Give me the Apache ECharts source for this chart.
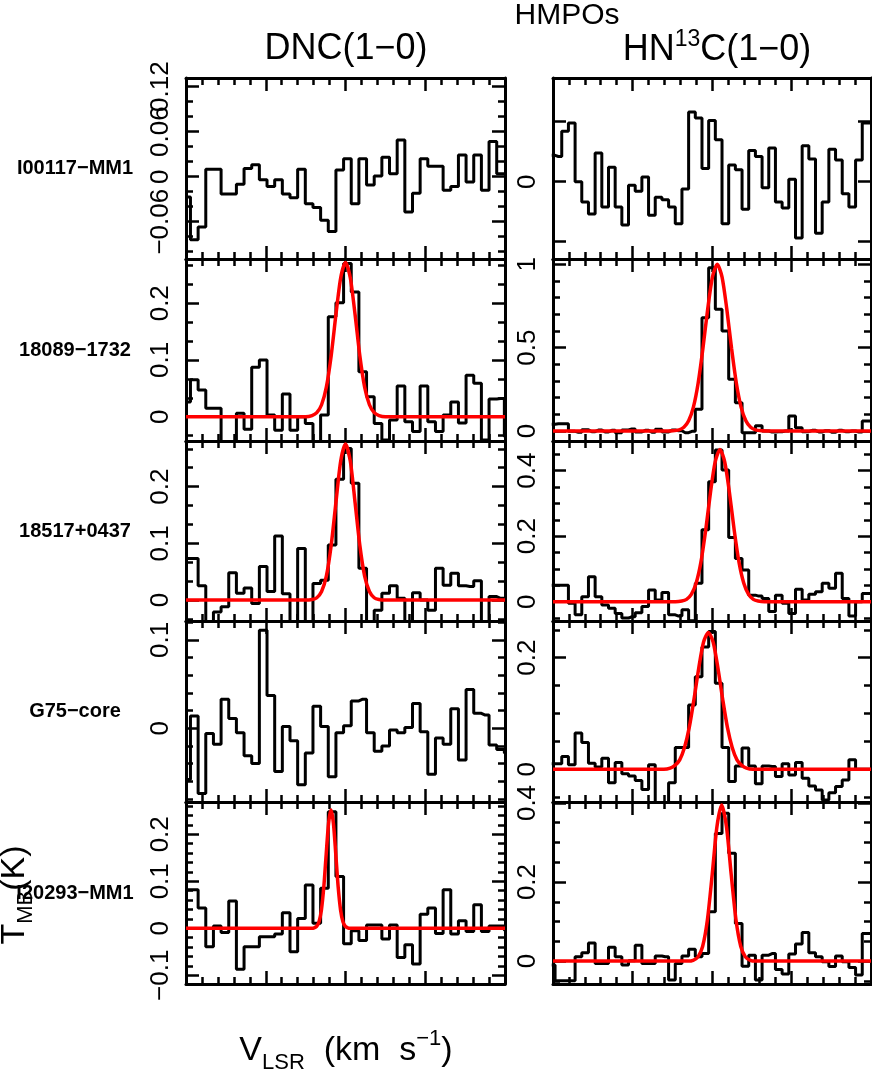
<!DOCTYPE html>
<html>
<head>
<meta charset="utf-8">
<script src="https://cdn.jsdelivr.net/npm/echarts@6.0.0/dist/echarts.min.js"></script>
<style>html,body{margin:0;padding:0;background:#fff}#chart{width:872px;height:1073px}</style>
</head>
<body>
<div id="chart"></div>
<script>
// ---------------- DATA ----------------
const groupTitle = 'HMPOs';
const sources = ['I00117−MM1', '18089−1732', '18517+0437', 'G75−core', 'I20293−MM1'];

// channel velocities (km/s, relative)
const velDNC = [-9.96,-9.48,-9.00,-8.52,-8.04,-7.56,-7.08,-6.60,-6.12,-5.64,-5.16,-4.68,-4.20,-3.72,-3.24,-2.76,-2.28,-1.80,-1.32,-0.84,-0.36,0.12,0.60,1.08,1.56,2.04,2.52,3.00,3.48,3.96,4.44,4.92,5.40,5.88,6.36,6.84,7.32,7.80,8.28,8.76,9.24,9.72,10.20];
const velHN13C = [-10.08,-9.66,-9.24,-8.82,-8.40,-7.98,-7.56,-7.14,-6.72,-6.30,-5.88,-5.46,-5.04,-4.62,-4.20,-3.78,-3.36,-2.94,-2.52,-2.10,-1.68,-1.26,-0.84,-0.42,0.00,0.42,0.84,1.26,1.68,2.10,2.52,2.94,3.36,3.78,4.20,4.62,5.04,5.46,5.88,6.30,6.72,7.14,7.56,7.98,8.40,8.82,9.24,9.66,10.08];

// DNC(1-0) spectra (T_MB, K)
const dncI00117 = [-0.027,-0.084,-0.067,0.010,0.010,-0.023,-0.023,-0.010,0.011,0.016,-0.004,-0.013,-0.004,-0.023,-0.028,0.010,-0.036,-0.041,-0.058,-0.073,0.009,0.024,-0.036,0.024,-0.011,0.001,0.026,0.004,0.049,-0.047,-0.022,0.024,0.014,0.014,-0.018,-0.013,0.029,-0.007,0.029,-0.018,0.047,0.004,0.004];
const dnc18089 = [0.026,0.065,0.047,0.015,0.015,-0.044,-0.044,0.006,-0.022,0.087,0.100,0.003,-0.024,0.040,-0.024,0.0,-0.012,-0.044,0.003,0.176,0.201,0.270,0.220,0.079,0.035,-0.012,-0.041,-0.006,0.054,-0.009,-0.026,0.054,-0.009,-0.026,0.003,0.026,-0.011,0.073,0.059,-0.041,0.031,0.032,-0.035];
const dnc18517 = [0.073,0.073,0.025,-0.038,-0.021,-0.012,0.048,0.012,0.021,-0.006,0.059,0.015,0.113,0.011,-0.038,0.091,-0.041,0.029,0.035,0.097,0.213,0.267,0.206,0.056,-0.038,-0.018,0.012,0.025,0.003,-0.041,0.013,0.0,-0.018,0.056,0.026,0.047,0.025,0.024,0.034,-0.041,0.006,0.003,0.0];
const dncG75 = [-0.058,0.014,-0.074,-0.006,-0.018,0.033,0.011,-0.005,-0.031,-0.040,0.111,0.037,-0.049,0.002,-0.014,-0.064,-0.028,0.025,0.002,-0.055,-0.005,0.003,0.031,0.033,-0.005,-0.026,-0.020,-0.002,-0.005,0.001,0.028,-0.004,-0.052,-0.011,-0.018,0.022,-0.036,0.044,0.017,0.015,-0.019,-0.024,-0.028];
const dncI20293 = [0.082,0.082,0.043,-0.039,0.005,-0.009,0.058,-0.087,-0.039,-0.039,-0.018,-0.018,-0.012,0.033,-0.050,0.021,0.092,0.011,0.085,0.248,0.110,-0.033,-0.005,-0.026,0.007,0.007,-0.023,0.007,-0.062,-0.035,-0.076,0.030,0.043,-0.011,0.082,-0.012,0.016,-0.007,0.050,-0.007,0.005,0.005,-0.004];

// HN13C(1-0) spectra (T_MB, K)
const hn13cI00117 = [0.022,0.021,0.042,0.049,0.000,-0.017,-0.027,0.024,-0.021,0.012,-0.021,-0.036,-0.003,-0.008,0.004,-0.028,-0.013,-0.015,-0.021,-0.035,-0.006,0.058,0.053,0.011,0.051,0.035,-0.035,0.014,0.010,-0.023,0.026,0.021,-0.005,0.028,-0.017,-0.022,0.002,-0.047,0.030,0.019,-0.043,-0.017,0.027,0.018,-0.010,-0.021,0.018,0.049,0.049];
const hn13c18089 = [0.04,0.044,0.044,-0.002,-0.008,0.008,-0.004,0.006,-0.006,0.004,-0.01,0.006,0.012,-0.006,0.004,-0.008,0.01,-0.006,0.006,0.002,-0.01,-0.002,0.13,0.68,0.98,0.73,0.60,0.31,0.17,-0.01,-0.01,0.032,0.0,-0.006,-0.004,0.0,0.09,0.02,-0.004,0.004,-0.006,0.002,-0.008,0.004,-0.004,0.0,-0.006,0.06,0.06];
const hn13c18517 = [0.05,0.05,0.05,-0.005,-0.04,0.015,0.076,0.015,-0.01,-0.02,-0.036,-0.05,-0.046,-0.034,-0.015,0.036,0.005,0.028,-0.04,-0.044,-0.025,-0.058,0.056,0.22,0.366,0.463,0.402,0.196,0.132,0.097,0.02,0.017,0.01,-0.03,0.02,-0.005,-0.036,0.038,0.005,0.023,0.03,0.056,0.041,0.087,0.01,-0.044,0.0,0.025,0.025];
const hn13cG75 = [0.01,0.01,0.023,0.008,0.065,0.048,0.011,0.004,0.020,-0.024,0.012,-0.008,-0.012,-0.020,-0.036,0.008,-0.067,-0.070,-0.024,0.039,0.039,0.115,0.166,0.219,0.247,0.154,0.039,-0.022,0.006,0.038,0.006,-0.026,0.006,0.005,-0.013,0.010,-0.010,0.012,-0.016,-0.030,-0.037,-0.055,-0.042,-0.031,-0.019,0.017,0.0,0.0,0.0];
const hn13cI20293 = [-0.01,-0.05,-0.05,-0.05,0.011,0.021,0.046,-0.006,-0.006,0.035,0.011,-0.01,0.001,0.04,-0.006,-0.006,0.013,0.011,-0.048,-0.006,0.013,0.03,0.011,0.019,0.125,0.323,0.374,0.273,0.095,-0.013,0.015,-0.048,0.015,0.019,-0.021,-0.033,0.018,0.043,0.072,0.021,0.011,-0.002,-0.014,0.013,-0.002,-0.016,-0.035,0.07,0.07];

// Gaussian fit curves [velocity, T_MB]
const fitDnc18089 = [[-10,0],[-3,0],[-2.5,0],[-2.1,0.002],[-1.8,0.007],[-1.5,0.021],[-1.2,0.052],[-0.9,0.107],[-0.6,0.180],[-0.3,0.245],[0,0.272],[0.3,0.245],[0.6,0.180],[0.9,0.107],[1.2,0.052],[1.5,0.021],[1.8,0.007],[2.1,0.002],[2.5,0],[3,0],[10,0]];
const fitDnc18517 = [[-10,0],[-3,0],[-2.5,0],[-2.1,0.001],[-1.8,0.004],[-1.5,0.015],[-1.2,0.042],[-0.9,0.096],[-0.6,0.172],[-0.3,0.245],[0,0.275],[0.3,0.245],[0.6,0.172],[0.9,0.096],[1.2,0.042],[1.5,0.015],[1.8,0.004],[2.1,0.001],[2.5,0],[3,0],[10,0]];
const fitDncI20293 = [[-10,0],[-2.5,0],[-2.11,0],[-1.96,0.001],[-1.81,0.004],[-1.66,0.014],[-1.51,0.039],[-1.36,0.088],[-1.21,0.158],[-1.06,0.224],[-0.91,0.252],[-0.76,0.224],[-0.61,0.158],[-0.46,0.088],[-0.31,0.039],[-0.16,0.014],[-0.01,0.004],[0.14,0.001],[0.29,0],[0.7,0],[10,0]];
const fitHn13c18089 = [[-10,0],[-3.2,0],[-2.8,0],[-2.47,0.001],[-2.07,0.007],[-1.77,0.022],[-1.47,0.061],[-1.17,0.143],[-0.87,0.288],[-0.57,0.496],[-0.27,0.732],[0.03,0.925],[0.33,1.0],[0.63,0.925],[0.93,0.732],[1.23,0.496],[1.53,0.288],[1.83,0.143],[2.13,0.061],[2.43,0.022],[2.73,0.007],[3.13,0.001],[3.5,0],[4,0],[10,0]];
const fitHn13c18517 = [[-10,0],[-2.8,0],[-2.3,0],[-1.9,0.002],[-1.6,0.007],[-1.3,0.022],[-1.0,0.056],[-0.7,0.120],[-0.4,0.217],[-0.1,0.332],[0.2,0.427],[0.5,0.465],[0.8,0.427],[1.1,0.332],[1.4,0.217],[1.7,0.120],[2.0,0.056],[2.3,0.022],[2.6,0.007],[2.9,0.002],[3.3,0],[3.8,0],[10,0]];
const fitHn13cG75 = [[-10,0],[-3.5,0],[-3.03,0],[-2.63,0.002],[-2.33,0.007],[-2.03,0.017],[-1.73,0.039],[-1.43,0.075],[-1.13,0.126],[-0.83,0.182],[-0.53,0.228],[-0.23,0.245],[0.07,0.228],[0.37,0.182],[0.67,0.126],[0.97,0.075],[1.27,0.039],[1.57,0.017],[1.87,0.007],[2.17,0.002],[2.57,0],[3,0],[10,0]];
const fitHn13cI20293 = [[-10,0],[-2,0],[-1.49,0],[-1.19,0.002],[-0.89,0.010],[-0.59,0.037],[-0.29,0.104],[0.01,0.218],[0.31,0.340],[0.61,0.395],[0.91,0.340],[1.21,0.218],[1.51,0.104],[1.81,0.037],[2.11,0.010],[2.41,0.002],[2.71,0],[3.2,0],[10,0]];

// y-axis ranges, major tick values, labelled values, minor tick values
const yRangeDNC = [[-0.1097,0.1316],[-0.0429,0.278],[-0.037,0.2804],[-0.0835,0.1215],[-0.1185,0.2687]];
const yRangeHN13C = [[-0.0644,0.0864],[-0.06,1.032],[-0.059,0.4907],[-0.0586,0.2657],[-0.058,0.4025]];
const yMajorDNC = [[-0.06,0,0.06,0.12],[0,0.1,0.2],[0,0.1,0.2],[0,0.1],[-0.1,0,0.1,0.2]];
const yMajorHN13C = [[-0.05,0,0.05],[0,0.5,1],[0,0.2,0.4],[0,0.2],[0,0.2,0.4]];
const yLabelDNC = [[-0.06,0,0.06,0.12],[0,0.1,0.2],[0,0.1,0.2],[0,0.1],[-0.1,0,0.1,0.2]];
const yLabelHN13C = [[0],[0,0.5,1],[0,0.2,0.4],[0,0.2],[0,0.2,0.4]];
const yMinorDNC = [
  [-0.10,-0.08,-0.04,-0.02,0.02,0.04,0.08,0.10],
  [-0.0333,0.0333,0.0667,0.1333,0.1667,0.2333,0.2667],
  [-0.0333,0.0333,0.0667,0.1333,0.1667,0.2333,0.2667],
  [-0.08,-0.06,-0.04,-0.02,0.02,0.04,0.06,0.08,0.12],
  [-0.08,-0.06,-0.04,-0.02,0.02,0.04,0.06,0.08,0.12,0.14,0.16,0.18,0.22,0.24,0.26]
];
const yMinorHN13C = [
  [],
  [0.1,0.2,0.3,0.4,0.6,0.7,0.8,0.9],
  [-0.05,0.05,0.1,0.15,0.25,0.3,0.35,0.45],
  [-0.05,0.05,0.1,0.15,0.25],
  [-0.05,0.05,0.1,0.15,0.25,0.3,0.35]
];

const dncSpectra = [dncI00117, dnc18089, dnc18517, dncG75, dncI20293];
const hn13cSpectra = [hn13cI00117, hn13c18089, hn13c18517, hn13cG75, hn13cI20293];
const dncFits = [null, fitDnc18089, fitDnc18517, null, fitDncI20293];
const hn13cFits = [null, fitHn13c18089, fitHn13c18517, fitHn13cG75, fitHn13cI20293];

// ---------------- LAYOUT ----------------
const FONT = '"Liberation Sans", Arial, Helvetica, sans-serif';
const colLeft = [186, 553];
const colWidth = [319, 318];
const rowTop = [78, 259, 441, 621, 802];
const rowBottom = [259, 441, 621, 802, 984];
const BLACK = '#000';

function fmt(v) {
  return String(Math.round(v * 1000) / 1000).replace('-', '−');
}
function labelStyle(vals) {
  if (!vals.length) return { show: false };
  return {
    show: true, customValues: vals, rotate: 90, margin: 12, fontSize: 26,
    fontFamily: FONT, color: BLACK, formatter: fmt,
    hideOverlap: false, showMinLabel: true, showMaxLabel: true
  };
}

const grid = [], xAxis = [], yAxis = [], series = [];
const panels = [];
for (let r = 0; r < 5; r++) {
  panels.push({ row: r, col: 0, vel: velDNC, spec: dncSpectra[r], fit: dncFits[r],
    range: yRangeDNC[r], major: yMajorDNC[r], labels: yLabelDNC[r], minor: yMinorDNC[r] });
  panels.push({ row: r, col: 1, vel: velHN13C, spec: hn13cSpectra[r], fit: hn13cFits[r],
    range: yRangeHN13C[r], major: yMajorHN13C[r], labels: yLabelHN13C[r], minor: yMinorHN13C[r] });
}

panels.forEach((p, i) => {
  grid.push({ left: colLeft[p.col], top: rowTop[p.row], width: colWidth[p.col],
    height: rowBottom[p.row] - rowTop[p.row], containLabel: false });
  const xi = xAxis.length;
  ['bottom', 'top'].forEach(pos => {
    xAxis.push({
      type: 'value', gridIndex: i, position: pos, min: -10, max: 10, interval: 5,
      axisLine: { show: true, onZero: false, lineStyle: { color: BLACK, width: 3 } },
      axisTick: { show: true, inside: true, length: 13, lineStyle: { color: BLACK, width: 2.5 } },
      minorTick: { show: true, splitNumber: 5, length: 7, lineStyle: { color: BLACK, width: 2.5 } },
      axisLabel: { show: false }, splitLine: { show: false }, minorSplitLine: { show: false }
    });
  });
  // labels split over two axes so that overlapping labels are all kept (as in the original)
  const labA = p.labels.filter((_, j) => j % 2 === 0);
  const labB = p.labels.filter((_, j) => j % 2 === 1);
  const yi = yAxis.length;
  ['left', 'right'].forEach(pos => {
    yAxis.push({
      type: 'value', gridIndex: i, position: pos, min: p.range[0], max: p.range[1],
      axisLine: { show: true, onZero: false, lineStyle: { color: BLACK, width: 3 } },
      axisTick: { show: true, inside: true, length: 13, customValues: p.major,
        lineStyle: { color: BLACK, width: 2.5 } },
      axisLabel: pos === 'left' ? labelStyle(labA) : { show: false },
      splitLine: { show: false }
    });
    yAxis.push({
      type: 'value', gridIndex: i, position: pos, min: p.range[0], max: p.range[1],
      axisLine: { show: false, onZero: false },
      axisTick: { show: p.minor.length > 0, inside: true, length: 7, customValues: p.minor,
        lineStyle: { color: BLACK, width: 2.5 } },
      axisLabel: pos === 'left' ? labelStyle(labB) : { show: false },
      splitLine: { show: false }
    });
  });
  series.push({
    type: 'line', xAxisIndex: xi, yAxisIndex: yi, step: 'middle',
    data: p.vel.map((v, k) => [v, p.spec[k]]),
    symbol: 'none', lineStyle: { color: BLACK, width: 3 }, silent: true, z: 2
  });
  if (p.fit) {
    series.push({
      type: 'line', xAxisIndex: xi, yAxisIndex: yi, data: p.fit, smooth: 0.25,
      symbol: 'none', lineStyle: { color: '#ff0000', width: 3.5 }, silent: true, z: 3
    });
  }
});

const graphic = [
  { type: 'text', x: 567, y: 16, style: { text: groupTitle, fontSize: 30, fontFamily: FONT, fill: BLACK, textAlign: 'center', textVerticalAlign: 'middle' } },
  { type: 'text', x: 346, y: 49, style: { text: 'DNC(1−0)', fontSize: 36, fontFamily: FONT, fill: BLACK, textAlign: 'center', textVerticalAlign: 'middle' } },
  { type: 'text', x: 717, y: 50, style: {
      text: '{n|HN}{s|13}{n|C(1−0)}', textAlign: 'center', textVerticalAlign: 'middle', fill: BLACK,
      rich: { n: { fontSize: 36, fontFamily: FONT, lineHeight: 44, fill: BLACK },
              s: { fontSize: 23, fontFamily: FONT, lineHeight: 16, verticalAlign: 'top', fill: BLACK } } } },
  { type: 'text', x: 346, y: 1051, style: {
      text: '{n|V}{b|LSR}{n|  (km  s}{p|−1}{n|)}', textAlign: 'center', textVerticalAlign: 'middle', fill: BLACK,
      rich: { n: { fontSize: 34, fontFamily: FONT, lineHeight: 46, fill: BLACK },
              b: { fontSize: 22, fontFamily: FONT, lineHeight: 20, verticalAlign: 'bottom', fill: BLACK },
              p: { fontSize: 22, fontFamily: FONT, lineHeight: 20, verticalAlign: 'top', fill: BLACK } } } },
  { type: 'text', x: 15, y: 895, rotation: Math.PI / 2, style: {
      text: '{n|T}{b|MB}{n|(K)}', textAlign: 'center', textVerticalAlign: 'middle', fill: BLACK,
      rich: { n: { fontSize: 34, fontFamily: FONT, lineHeight: 44, fill: BLACK },
              b: { fontSize: 22, fontFamily: FONT, lineHeight: 20, verticalAlign: 'bottom', fill: BLACK } } } }
];
sources.forEach((s, r) => {
  graphic.push({ type: 'text', x: 75, y: (rowTop[r] + rowBottom[r]) / 2,
    style: { text: s, fontSize: 20, fontWeight: 'bold', fontFamily: FONT, fill: BLACK,
      textAlign: 'center', textVerticalAlign: 'middle' } });
});

const chart = echarts.init(document.getElementById('chart'), null, { renderer: 'canvas' });
chart.setOption({
  animation: false,
  backgroundColor: '#fff',
  grid, xAxis, yAxis, series, graphic
});
</script>
</body>
</html>
